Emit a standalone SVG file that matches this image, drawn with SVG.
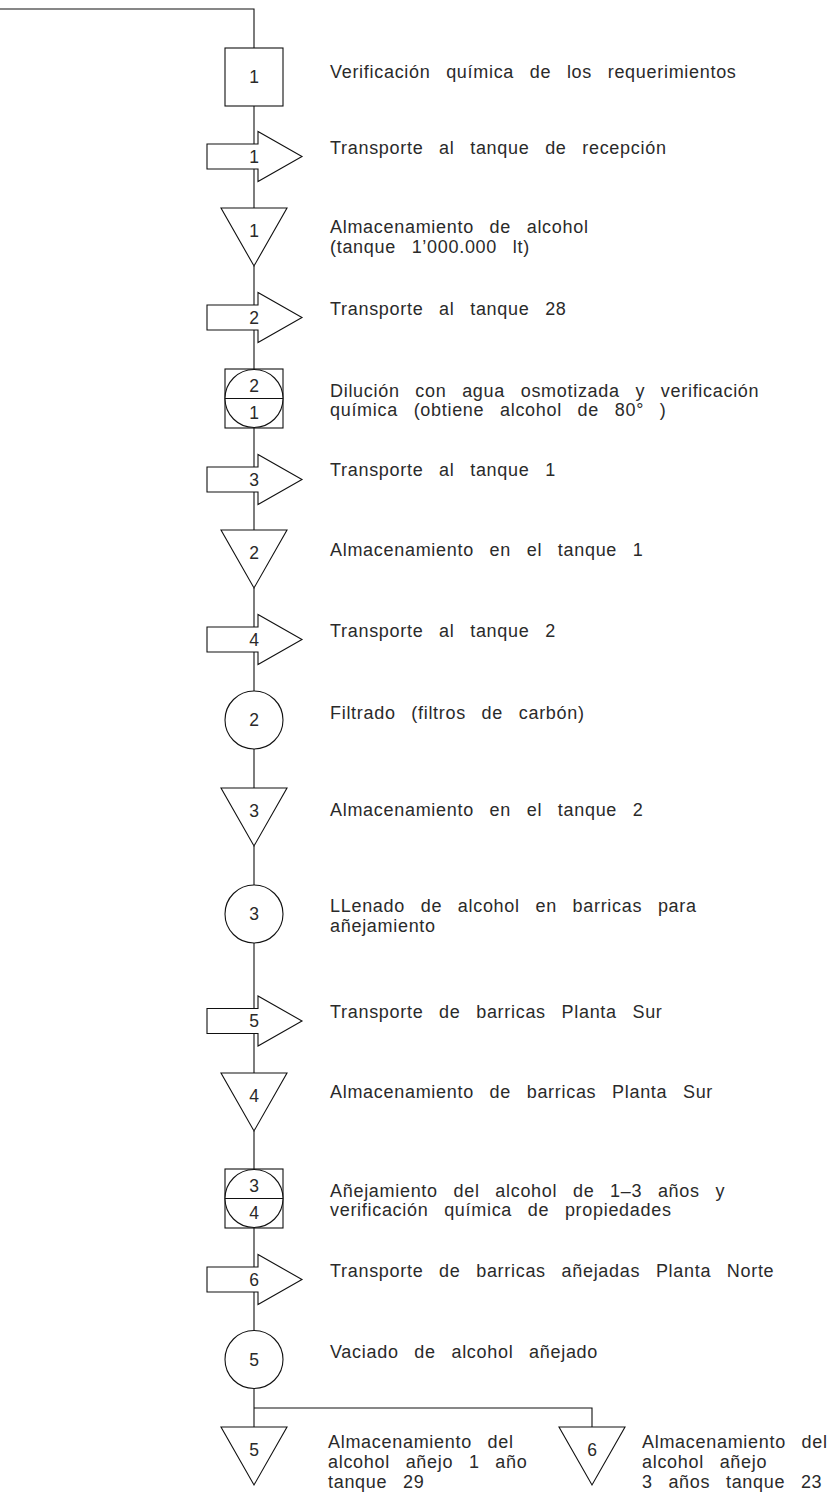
<svg xmlns="http://www.w3.org/2000/svg" xmlns:xlink="http://www.w3.org/1999/xlink" width="832" height="1499" viewBox="0 0 832 1499">
  <style>
    .shape { fill: #fff; stroke: #111; stroke-width: 1.1; }
    .wire { fill: none; stroke: #111; stroke-width: 1.1; }
    .num { font-family: "Liberation Sans", Arial, sans-serif; font-size: 17.5px; fill: #2a2a2a; text-anchor: middle; }
    .lbl { font-family: "Liberation Sans", Arial, sans-serif; font-size: 18px; letter-spacing: 0.7px; word-spacing: 10px; fill: #2a2a2a; }
  </style>
  <defs>
    <!-- transport: block arrow, origin at its vertical centre -->
    <path id="arrow" d="M207,-12.5 H258 V-25 L302,0 L258,25 V12.5 H207 Z"/>
    <!-- storage: inverted triangle, origin at its top edge -->
    <path id="tri" d="M221,0 H287 L254,58 Z"/>
  </defs>

  <rect width="832" height="1499" fill="#fff"/>

  <!-- connectors -->
  <g id="connectors" class="wire">
    <path d="M0,9 H254 V48"/>
    <path d="M254,106 V144"/>
    <path d="M254,169 V208"/>
    <path d="M254,266 V305"/>
    <path d="M254,330 V369"/>
    <path d="M254,428 V467"/>
    <path d="M254,492 V530"/>
    <path d="M254,588 V627"/>
    <path d="M254,652 V691"/>
    <path d="M254,749 V788"/>
    <path d="M254,846 V885"/>
    <path d="M254,943 V1008.5"/>
    <path d="M254,1033.5 V1073"/>
    <path d="M254,1131 V1169"/>
    <path d="M254,1228 V1267"/>
    <path d="M254,1292 V1330"/>
    <path d="M254,1389 V1427"/>
    <path d="M254,1408 H592 V1427"/>
  </g>

  <!-- inspection 1 -->
  <g id="inspection-1">
    <rect class="shape" x="225" y="48" width="58" height="58"/>
    <text class="num" x="254" y="83">1</text>
    <text class="lbl" x="330" y="78">Verificación química de los requerimientos</text>
  </g>

  <!-- transport 1 -->
  <g id="transport-1">
    <use xlink:href="#arrow" class="shape" y="156.5"/>
    <text class="num" x="254" y="163">1</text>
    <text class="lbl" x="330" y="154">Transporte al tanque de recepción</text>
  </g>

  <!-- storage 1 -->
  <g id="storage-1">
    <use xlink:href="#tri" class="shape" y="208"/>
    <text class="num" x="254" y="237">1</text>
    <text class="lbl" x="330" y="233">Almacenamiento de alcohol<tspan x="330" dy="20">(tanque 1’000.000 lt)</tspan></text>
  </g>

  <!-- transport 2 -->
  <g id="transport-2">
    <use xlink:href="#arrow" class="shape" y="317.5"/>
    <text class="num" x="254" y="324">2</text>
    <text class="lbl" x="330" y="315">Transporte al tanque 28</text>
  </g>

  <!-- combined operation / inspection 2-1 -->
  <g id="combined-2-1">
    <rect class="shape" x="225" y="369" width="58" height="59"/>
    <circle class="shape" cx="254" cy="398.5" r="29"/>
    <line class="wire" x1="225" y1="398.5" x2="283" y2="398.5"/>
    <text class="num" x="254" y="392">2</text>
    <text class="num" x="254" y="419">1</text>
    <text class="lbl" x="330" y="397">Dilución con agua osmotizada y verificación<tspan x="330" dy="19">química (obtiene alcohol de 80° )</tspan></text>
  </g>

  <!-- transport 3 -->
  <g id="transport-3">
    <use xlink:href="#arrow" class="shape" y="479.5"/>
    <text class="num" x="254" y="486">3</text>
    <text class="lbl" x="330" y="476">Transporte al tanque 1</text>
  </g>

  <!-- storage 2 -->
  <g id="storage-2">
    <use xlink:href="#tri" class="shape" y="530"/>
    <text class="num" x="254" y="559">2</text>
    <text class="lbl" x="330" y="556">Almacenamiento en el tanque 1</text>
  </g>

  <!-- transport 4 -->
  <g id="transport-4">
    <use xlink:href="#arrow" class="shape" y="639.5"/>
    <text class="num" x="254" y="646">4</text>
    <text class="lbl" x="330" y="637">Transporte al tanque 2</text>
  </g>

  <!-- operation 2 -->
  <g id="operation-2">
    <circle class="shape" cx="254" cy="720" r="29"/>
    <text class="num" x="254" y="726">2</text>
    <text class="lbl" x="330" y="719">Filtrado (filtros de carbón)</text>
  </g>

  <!-- storage 3 -->
  <g id="storage-3">
    <use xlink:href="#tri" class="shape" y="788"/>
    <text class="num" x="254" y="817">3</text>
    <text class="lbl" x="330" y="816">Almacenamiento en el tanque 2</text>
  </g>

  <!-- operation 3 -->
  <g id="operation-3">
    <circle class="shape" cx="254" cy="914" r="29"/>
    <text class="num" x="254" y="920">3</text>
    <text class="lbl" x="330" y="912">LLenado de alcohol en barricas para<tspan x="330" dy="20">añejamiento</tspan></text>
  </g>

  <!-- transport 5 -->
  <g id="transport-5">
    <use xlink:href="#arrow" class="shape" y="1021"/>
    <text class="num" x="254" y="1027">5</text>
    <text class="lbl" x="330" y="1018">Transporte de barricas Planta Sur</text>
  </g>

  <!-- storage 4 -->
  <g id="storage-4">
    <use xlink:href="#tri" class="shape" y="1073"/>
    <text class="num" x="254" y="1102">4</text>
    <text class="lbl" x="330" y="1098">Almacenamiento de barricas Planta Sur</text>
  </g>

  <!-- combined operation / inspection 3-4 -->
  <g id="combined-3-4">
    <rect class="shape" x="225" y="1169" width="58" height="59"/>
    <circle class="shape" cx="254" cy="1198.5" r="29"/>
    <line class="wire" x1="225" y1="1198.5" x2="283" y2="1198.5"/>
    <text class="num" x="254" y="1192">3</text>
    <text class="num" x="254" y="1219">4</text>
    <text class="lbl" x="330" y="1197">Añejamiento del alcohol de 1–3 años y<tspan x="330" dy="19">verificación química de propiedades</tspan></text>
  </g>

  <!-- transport 6 -->
  <g id="transport-6">
    <use xlink:href="#arrow" class="shape" y="1279.5"/>
    <text class="num" x="254" y="1286">6</text>
    <text class="lbl" x="330" y="1277">Transporte de barricas añejadas Planta Norte</text>
  </g>

  <!-- operation 5 -->
  <g id="operation-5">
    <circle class="shape" cx="254" cy="1359.5" r="29"/>
    <text class="num" x="254" y="1366">5</text>
    <text class="lbl" x="330" y="1358">Vaciado de alcohol añejado</text>
  </g>

  <!-- storage 5 -->
  <g id="storage-5">
    <use xlink:href="#tri" class="shape" y="1427"/>
    <text class="num" x="254" y="1456">5</text>
    <text class="lbl" x="328" y="1448">Almacenamiento del<tspan x="328" dy="20">alcohol añejo 1 año</tspan><tspan x="328" dy="20">tanque 29</tspan></text>
  </g>

  <!-- storage 6 -->
  <g id="storage-6">
    <use xlink:href="#tri" class="shape" x="338" y="1427"/>
    <text class="num" x="592" y="1456">6</text>
    <text class="lbl" x="642" y="1448">Almacenamiento del<tspan x="642" dy="20">alcohol añejo</tspan><tspan x="642" dy="20">3 años tanque 23</tspan></text>
  </g>
</svg>
